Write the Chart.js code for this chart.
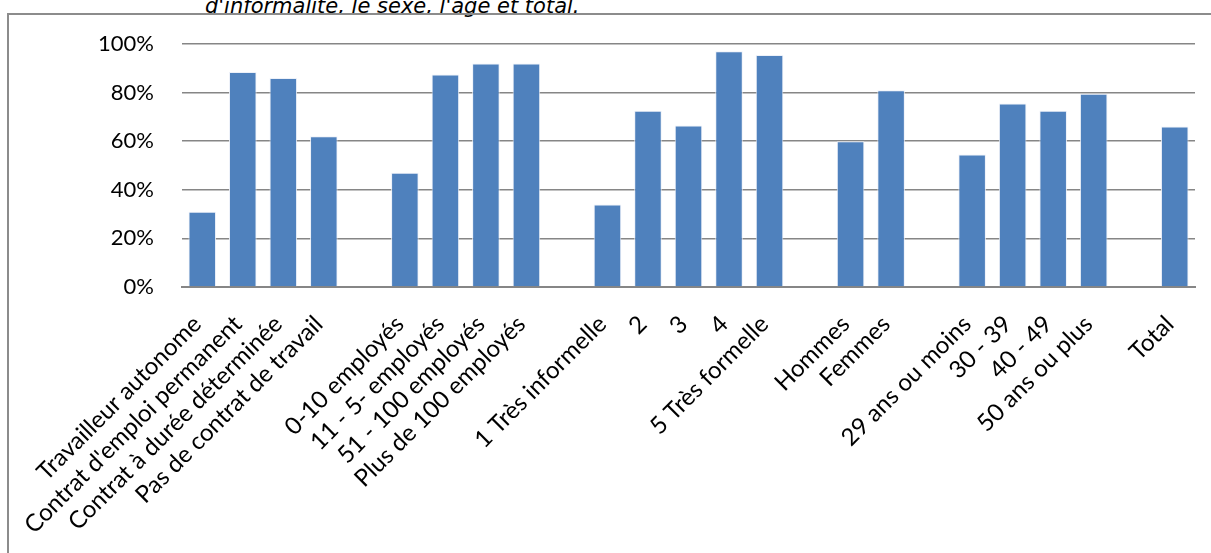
<!DOCTYPE html>
<html>
<head>
<meta charset="utf-8">
<script src="https://cdn.jsdelivr.net/npm/chart.js@4"></script>
<style>
  html, body { margin: 0; padding: 0; background: #fff; overflow: hidden; }
  body { width: 1211px; height: 553px; position: relative; }
  #caption {
    position: absolute; left: 205px; top: -6px;
    font-family: "DejaVu Sans", Verdana, sans-serif; font-style: italic;
    font-size: 21px; color: #000; white-space: nowrap;
  }
  #frame {
    position: absolute; left: 7px; top: 13px; width: 1220px; height: 560px;
    border: 2px solid #8c8c8c; box-sizing: border-box;
  }
  #wrap { position: absolute; left: 0; top: 0; width: 1211px; height: 553px; }
</style>
</head>
<body>
<div id="caption">d'informalité, le sexe, l'âge et total.</div>
<div id="frame"></div>
<div id="wrap"><canvas id="myChart"></canvas></div>
<script>
// categories (empty strings are the gaps between groups)
var categories = [
    'Travailleur autonome', "Contrat d'emploi permanent", 'Contrat à durée déterminée', 'Pas de contrat de travail', '',
    '0-10 employés', '11 - 5- employés', '51 - 100 employés', 'Plus de 100 employés', '',
    '1 Très informelle', '2', '3', '4', '5 Très formelle', '',
    'Hommes', 'Femmes', '',
    '29 ans ou moins', '30 - 39', '40 - 49', '50 ans ou plus', '',
    'Total'
];
var values = [
    31, 88.5, 86, 62, null,
    47, 87.5, 92, 92, null,
    34, 72.5, 66.5, 97, 95.5, null,
    60, 81, null,
    54.5, 75.5, 72.5, 79.5, null,
    66
];
var yTicks = [0, 20, 40, 60, 80, 100];

document.addEventListener('DOMContentLoaded', function () {
    var ctx = document.getElementById('myChart').getContext('2d');

    var data = {
        labels: categories,
        datasets: [{
            data: values,
            backgroundColor: '#4f81bd',
            borderColor: 'rgba(235,240,248,0.9)',
            borderWidth: 1,
            barPercentage: 0.68,
            categoryPercentage: 1
        }]
    };

    var options = {
        responsive: true,
        maintainAspectRatio: false,
        animation: false,
        layout: { padding: { top: 44, right: 16, left: 0, bottom: 0 } },
        plugins: { legend: { display: false }, tooltip: { enabled: false } },
        scales: {
            x: {
                grid: { display: false },
                border: { display: true, color: '#868686', width: 2 },
                ticks: {
                    autoSkip: false,
                    minRotation: 45,
                    maxRotation: 45,
                    color: '#000',
                    padding: 15,
                    labelOffset: -5,
                    font: { family: 'Lato', size: 24 }
                },
                afterFit: function (scale) { scale.height = 266; }
            },
            y: {
                min: 0,
                max: 100,
                afterBuildTicks: function (scale) {
                    scale.ticks = yTicks.map(function (v) { return { value: v }; });
                },
                grid: { color: '#868686', lineWidth: 1.5, drawTicks: false },
                border: { display: false },
                ticks: {
                    color: '#000',
                    padding: 28,
                    font: { family: 'Lato', size: 22 },
                    callback: function (v) { return v + '%'; }
                },
                afterFit: function (scale) { scale.width = 182; }
            }
        }
    };

    var myChart = new Chart(ctx, {
        type: 'bar',
        data: data,
        options: options
    });
});
</script>
</body>
</html>
